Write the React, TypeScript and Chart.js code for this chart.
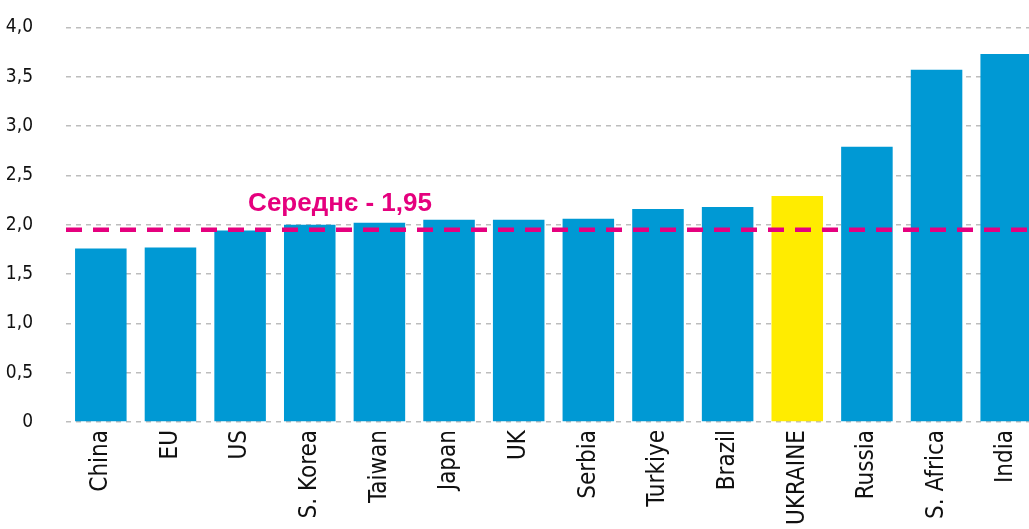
import React, { useEffect, useRef } from "react";
import { Chart, registerables } from "chart.js";

Chart.register(...registerables);

const categories = ["China", "EU", "US", "S. Korea", "Taiwan", "Japan", "UK", "Serbia", "Turkiye", "Brazil", "UKRAINE", "Russia", "S. Africa", "India"];
const values = [1.76, 1.77, 1.94, 2.0, 2.02, 2.05, 2.05, 2.06, 2.16, 2.18, 2.29, 2.79, 3.57, 3.73];
const highlight = "UKRAINE";
const averageValue = 1.95;
const averageLabel = "Середнє - 1,95";
const yTicks = [0, 0.5, 1, 1.5, 2, 2.5, 3, 3.5, 4];

const BLUE = "#0099d4";
const YELLOW = "#ffec00";
const MAGENTA = "#e5007e";
const NARROW = '"DejaVu Sans Condensed", "Liberation Sans Narrow", sans-serif';

const avgPlugin = {
  id: "avgLine",
  afterDatasetsDraw(chart: any) {
    const { ctx, chartArea, scales } = chart;
    const y = scales.y.getPixelForValue(averageValue);
    ctx.save();
    ctx.strokeStyle = MAGENTA;
    ctx.lineWidth = 4.5;
    ctx.setLineDash([16, 11]);
    ctx.beginPath();
    ctx.moveTo(chartArea.left, y);
    ctx.lineTo(chartArea.right, y);
    ctx.stroke();
    ctx.setLineDash([]);
    ctx.fillStyle = MAGENTA;
    ctx.font = 'bold 26px "Liberation Sans", Arial, sans-serif';
    ctx.textAlign = "left";
    ctx.textBaseline = "alphabetic";
    const xPos = scales.x.getPixelForValue(2) + 8;
    ctx.fillText(averageLabel, xPos, y - 19);
    ctx.restore();
  },
};

export default function App() {
  const ref = useRef<HTMLCanvasElement>(null);
  useEffect(() => {
    if (!ref.current) return;
    const chart = new Chart(ref.current, {
      type: "bar",
      data: {
        labels: categories,
        datasets: [
          {
            data: values,
            backgroundColor: categories.map((c) => (c === highlight ? YELLOW : BLUE)),
            categoryPercentage: 1,
            barPercentage: 0.74,
            borderWidth: 0,
          },
        ],
      },
      options: {
        responsive: false,
        animation: false,
        layout: { padding: { top: 10, left: 0, right: 0, bottom: 0 } },
        plugins: { legend: { display: false }, tooltip: { enabled: false }, title: { display: false } },
        scales: {
          x: {
            grid: { display: false, drawTicks: false },
            border: { display: false },
            ticks: {
              color: "#111",
              font: { family: NARROW, size: 24 },
              minRotation: 90,
              maxRotation: 90,
              autoSkip: false,
              padding: 8,
            },
            afterFit(scale: any) {
              scale.height = 108;
            },
          },
          y: {
            min: 0,
            max: 4,
            afterBuildTicks(scale: any) {
              scale.ticks = yTicks.map((v) => ({ value: v }));
            },
            grid: {
              color: "#bdbdbd",
              lineWidth: 1.5,
              drawTicks: false,
            },
            border: { display: false, dash: [5, 5] },
            ticks: {
              color: "#111",
              font: { family: NARROW, size: 19 },
              padding: 33,
              callback: (v: any) => (Number(v) === 0 ? "0" : Number(v).toFixed(1).replace(".", ",")),
            },
            afterFit(scale: any) {
              scale.width = 66;
            },
          },
        },
      },
      plugins: [avgPlugin],
    });
    return () => chart.destroy();
  }, []);
  return (
    <div style={{ position: "fixed", left: 0, top: 0, width: 1029, height: 529, overflow: "hidden", background: "#fff" }}>
      <canvas
        ref={ref}
        width={1043}
        height={547}
        style={{ position: "absolute", left: 0, top: -17, width: 1043, height: 547, display: "block" }}
      />
    </div>
  );
}
